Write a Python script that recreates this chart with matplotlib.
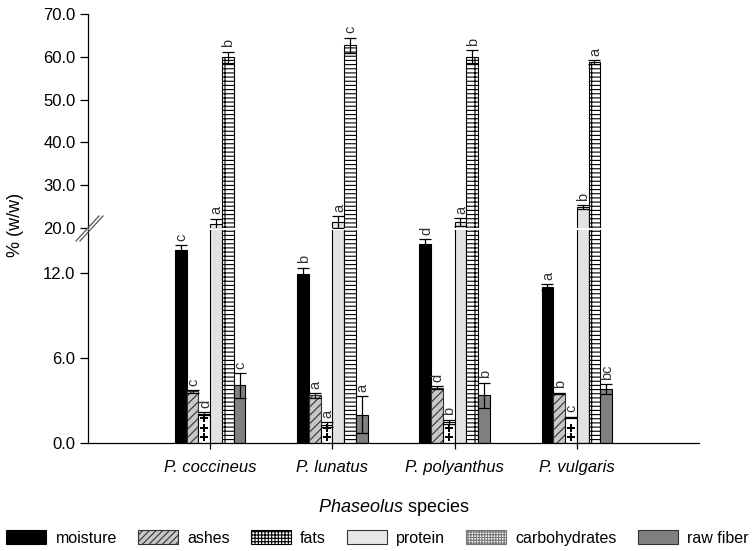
import numpy as np
import matplotlib
matplotlib.use("Agg")
import matplotlib.pyplot as plt
from matplotlib.patches import Patch
from matplotlib.lines import Line2D

plt.rcParams['font.family'] = ['Liberation Sans', 'DejaVu Sans']
plt.rcParams['mathtext.fontset'] = 'custom'
plt.rcParams['mathtext.it'] = 'Liberation Sans:italic'
plt.rcParams['mathtext.rm'] = 'Liberation Sans'
plt.rcParams['hatch.linewidth'] = 0.8

categories = ['P. coccineus', 'P. lunatus', 'P. polyanthus', 'P. vulgaris']
series_names = ['moisture', 'ashes', 'fats', 'protein', 'carbohydrates', 'raw fiber']

moisture = [13.6, 11.9, 14.0, 11.0]
moisture_err = [0.35, 0.45, 0.35, 0.2]
ashes = [3.65, 3.35, 3.9, 3.5]
ashes_err = [0.1, 0.15, 0.08, 0.05]
fats = [2.05, 1.3, 1.5, 1.8]
fats_err = [0.1, 0.15, 0.15, 0.06]
protein = [21.0, 21.4, 21.4, 24.9]
protein_err = [1.2, 1.3, 1.0, 0.4]
carbohydrates = [59.9, 62.7, 60.0, 58.8]
carbohydrates_err = [1.3, 1.8, 1.5, 0.5]
raw_fiber = [4.05, 2.0, 3.35, 3.8]
raw_fiber_err = [0.85, 1.3, 0.9, 0.35]

letters_moisture = ['c', 'b', 'd', 'a']
letters_ashes = ['c', 'a', 'd', 'b']
letters_fats = ['d', 'a', 'b', 'c']
letters_protein = ['a', 'a', 'a', 'b']
letters_carbohydrates = ['b', 'c', 'b', 'a']
letters_raw_fiber = ['c', 'a', 'b', 'bc']

lower_ticks = [0, 6, 12]
upper_ticks = [20, 30, 40, 50, 60, 70]

values = [moisture, ashes, fats, protein, carbohydrates, raw_fiber]
errors = [moisture_err, ashes_err, fats_err, protein_err, carbohydrates_err, raw_fiber_err]
letters = [letters_moisture, letters_ashes, letters_fats, letters_protein,
           letters_carbohydrates, letters_raw_fiber]

styles = [
    dict(facecolor='black', edgecolor='black', hatch=None),
    dict(facecolor='#c8c8c8', edgecolor='#333333', hatch='////'),
    dict(facecolor='white', edgecolor='black', hatch=None),
    dict(facecolor='#e2e2e2', edgecolor='black', hatch=None),
    dict(facecolor='white', edgecolor='black', hatch='----|'),
    dict(facecolor='#808080', edgecolor='black', hatch=None),
]
legend_styles = [
    dict(facecolor='black', edgecolor='black'),
    dict(facecolor='#c8c8c8', edgecolor='#333333', hatch='/////'),
    dict(facecolor='white', edgecolor='black', hatch='+++++'),
    dict(facecolor='#e6e6e6', edgecolor='#333333'),
    dict(facecolor='white', edgecolor='#777777', hatch='++++++'),
    dict(facecolor='#808080', edgecolor='#333333'),
]

W, H = 755, 551
fig = plt.figure(figsize=(W / 100, H / 100), dpi=100)

def fx(px):
    return px / W

def fy(py):
    return 1 - py / H

left, right = 88, 699
ax_up = fig.add_axes([fx(left), fy(228), fx(right - left), fy(14) - fy(228)])
ax_lo = fig.add_axes([fx(left), fy(443), fx(right - left), fy(230) - fy(443)])

ax_up.set_ylim(20, 70)
ax_lo.set_ylim(0, 15)
for ax in (ax_up, ax_lo):
    ax.set_xlim(0, 5)
    ax.spines['right'].set_visible(False)
    ax.spines['top'].set_visible(False)
    ax.patch.set_alpha(0)
ax_up.spines['bottom'].set_visible(False)
ax_up.tick_params(axis='x', bottom=False, labelbottom=False)

x = np.arange(1, len(categories) + 1)
w = 0.096
for i, (vals, errs, st, lets) in enumerate(zip(values, errors, styles, letters)):
    xi = x + (i - 2.5) * w
    for ax in (ax_up, ax_lo):
        ax.bar(xi, vals, width=w, facecolor=st['facecolor'], edgecolor=st['edgecolor'],
               hatch=st['hatch'], linewidth=0.8, zorder=2)
    for xx, v, e, lt in zip(xi, vals, errs, lets):
        ax = ax_up if v >= 15 else ax_lo
        ax.errorbar([xx], [v], yerr=[e], fmt='none', ecolor='black', elinewidth=0.9,
                    capsize=4.3, capthick=0.9, zorder=3)
        ax.annotate(lt, (xx, v + e), xytext=(0.5, 3), textcoords='offset points',
                    rotation=90, ha='center', va='bottom', fontsize=10.5, color='#303030')
    if series_names[i] == 'fats':
        for xx, v in zip(xi, vals):
            ys = np.arange(0.42, v - 0.15, 0.66)
            ax_lo.scatter(np.full(len(ys), xx), ys, marker='P', s=34, color='black',
                          linewidths=0, zorder=3)

ax_up.set_yticks(upper_ticks)
ax_up.set_yticklabels([f'{t:.1f}' for t in upper_ticks])
ax_lo.set_yticks(lower_ticks)
ax_lo.set_yticklabels([f'{t:.1f}' for t in lower_ticks])
for ax in (ax_up, ax_lo):
    ax.tick_params(axis='y', direction='out', length=6, width=0.9, pad=3, labelsize=12)
    ax.spines['left'].set_linewidth(0.9)
ax_lo.spines['bottom'].set_linewidth(0.9)
ax_lo.set_xticks(x)
ax_lo.set_xticklabels(categories, fontstyle='italic', fontsize=12)
ax_lo.tick_params(axis='x', direction='out', length=4, width=0.9, pad=8)

# break marks
for dx in (0, 4):
    fig.add_artist(Line2D([fx(76 + dx), fx(99 + dx)], [fy(241), fy(216)],
                          transform=fig.transFigure, color='#555555', lw=0.9))

fig.text(0.02, fy(225), '% (w/w)', rotation=90, ha='center', va='center', fontsize=13)
fig.text(fx((left + right) / 2), fy(507), r'$\it{Phaseolus}$ species', ha='center',
         va='center', fontsize=13)

handles = [Patch(label=n, linewidth=0.8, **s) for n, s in zip(series_names, legend_styles)]
fig.legend(handles=handles, loc='center', bbox_to_anchor=(0.5, fy(538)), ncol=6,
           frameon=False, fontsize=11.5, handlelength=2.5, handleheight=0.9,
           handletextpad=0.6, columnspacing=1.3, borderaxespad=0, borderpad=0)

fig.savefig('out.png', dpi=100)
